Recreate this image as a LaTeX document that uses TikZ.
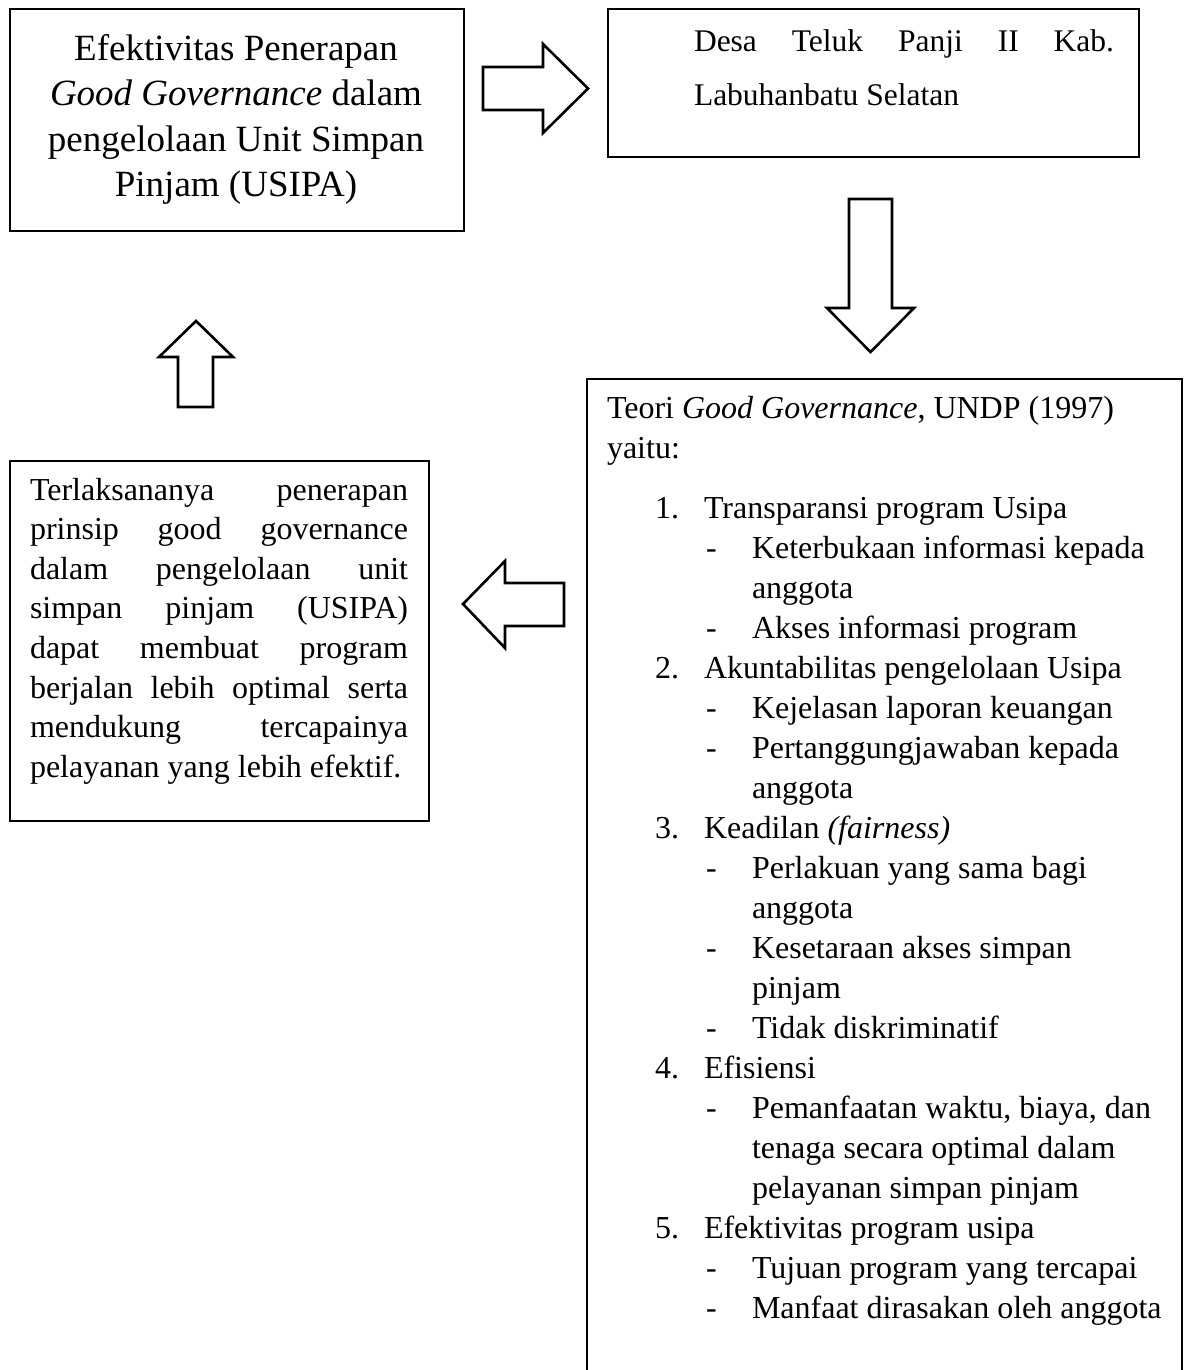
\documentclass[tikz,border=0pt]{standalone}
\usepackage{fontspec}
\setmainfont{Liberation Serif}
\newcommand\sizeA{\fontsize{37}{46}\selectfont}
\newcommand\sizeB{\fontsize{31.5}{40}\selectfont}
\newcommand\sizeC{\fontsize{32}{40}\selectfont}
\newcommand\sizeD{\fontsize{32}{40}\selectfont}
\begin{document}
\begin{tikzpicture}[x=1pt,y=-1pt,
  box/.style={draw=black, line width=2pt, inner sep=0pt, anchor=north west},
  blockarrow/.style={draw=black, line width=2.6pt, line join=miter, fill=white},
  txt/.style={anchor=base west, inner sep=0pt, outer sep=0pt},
  ctxt/.style={anchor=base, inner sep=0pt, outer sep=0pt},
]
\useasboundingbox (0,0) rectangle (1187,1370);
\fill[white] (0,0) rectangle (1187,1370);

% boxes
\node[box, minimum width=454pt, minimum height=222pt] (b1) at (9,8) {};
\node[box, minimum width=531pt, minimum height=148pt] (b2) at (607,8) {};
\node[box, minimum width=595pt, minimum height=1010pt] (b3) at (586,378) {};
\node[box, minimum width=419pt, minimum height=360pt] (b4) at (9,460) {};

% block arrows
\draw[blockarrow] (483,67) -- (543,67) -- (543,44) -- (588,88.5) -- (543,133) -- (543,110) -- (483,110) -- cycle;
\draw[blockarrow] (849,199) -- (892,199) -- (892,308) -- (914,308) -- (870.5,352) -- (827,308) -- (849,308) -- cycle;
\draw[blockarrow] (178,407) -- (178,357) -- (159,357) -- (196,321) -- (233,357) -- (213,357) -- (213,407) -- cycle;
\draw[blockarrow] (564,583) -- (505,583) -- (505,561) -- (463,604) -- (505,648) -- (505,626) -- (564,626) -- cycle;

% box 1 text
\node[ctxt] (a1) at (236,61) {\sizeA Efektivitas Penerapan};
\node[ctxt] (a2) at (236,106) {\sizeA \textit{Good Governance} dalam};
\node[ctxt] (a3) at (236,151) {\sizeA pengelolaan Unit Simpan};
\node[ctxt] (a4) at (236,196) {\sizeA Pinjam (USIPA)};

% box 2 text
\node[txt] (d1) at (694,52) {\sizeB\makebox[420pt][s]{Desa Teluk Panji II Kab.}};
\node[txt] (d2) at (694,106) {\sizeB Labuhanbatu Selatan};

% box 3 text
\node[txt] (h1) at (607,418) {\sizeC Teori \textit{Good Governance}, UNDP (1997)};
\node[txt] (h2) at (607,458) {\sizeC yaitu:};
\foreach \n/\y/\t in {1/518/Transparansi program Usipa, 2/678/Akuntabilitas pengelolaan Usipa, 3/838/{Keadilan \textit{(fairness)}}, 4/1078/Efisiensi, 5/1238/Efektivitas program usipa}{
  \node[txt] (num\n) at (655,\y) {\sizeC \n.};
  \node[txt] (item\n) at (704,\y) {\sizeC \t};
}
\foreach \k/\y/\d/\t in {
  1/558/1/Keterbukaan informasi kepada,
  2/598/0/anggota,
  3/638/1/Akses informasi program,
  4/718/1/Kejelasan laporan keuangan,
  5/758/1/Pertanggungjawaban kepada,
  6/798/0/anggota,
  7/878/1/Perlakuan yang sama bagi,
  8/918/0/anggota,
  9/958/1/Kesetaraan akses simpan,
  10/998/0/pinjam,
  11/1038/1/Tidak diskriminatif,
  12/1118/1/{Pemanfaatan waktu, biaya, dan},
  13/1158/0/tenaga secara optimal dalam,
  14/1198/0/pelayanan simpan pinjam,
  15/1278/1/Tujuan program yang tercapai,
  16/1318/1/Manfaat dirasakan oleh anggota}{
  \ifnum\d=1 \node[txt] (dash\k) at (706,\y) {\sizeC -};\fi
  \node[txt] (sub\k) at (752,\y) {\sizeC \t};
}

% box 4 text
\foreach \k/\y/\t in {
  1/500/Terlaksananya penerapan,
  2/539.6/prinsip good governance,
  3/579.2/dalam pengelolaan unit,
  4/618.8/simpan pinjam (USIPA),
  5/658.4/dapat membuat program,
  6/698/berjalan lebih optimal serta,
  7/737.6/mendukung tercapainya}{
  \node[txt] (c\k) at (30,\y) {\sizeD\makebox[378pt][s]{\t}};
}
\node[txt] (c8) at (30,777.2) {\sizeD pelayanan yang lebih efektif.};
\end{tikzpicture}
\end{document}
